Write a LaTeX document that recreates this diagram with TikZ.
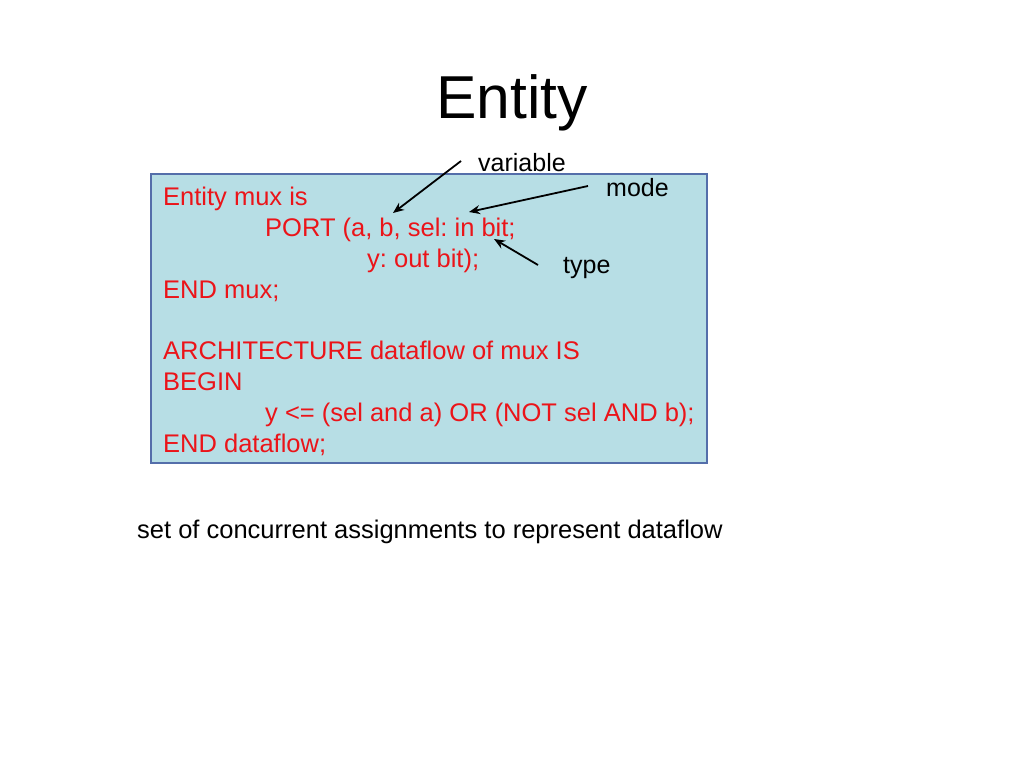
\documentclass[tikz,border=0pt]{standalone}
\usepackage{fontspec}
\setmainfont{Liberation Sans}
\usetikzlibrary{arrows.meta}
\definecolor{boxfill}{RGB}{183,222,229}
\definecolor{boxline}{RGB}{84,110,170}
\definecolor{codered}{RGB}{235,20,25}
\frenchspacing
\begin{document}
\begin{tikzpicture}[x=1pt,y=-1pt,
  code/.style={anchor=base west,inner sep=0pt,text=codered,font=\fontsize{25.5}{30}\selectfont},
  lbl/.style={anchor=base west,inner sep=0pt,font=\fontsize{25}{30}\selectfont},
  pointer/.style={draw=black,line width=1.8pt,-{Stealth[length=11pt,width=9pt]}}]
\useasboundingbox (0,0) rectangle (1024,768);
\fill[white] (0,0) rectangle (1024,768);
\node[anchor=base,inner sep=0pt,font=\fontsize{60.6}{70}\selectfont] (title) at (512,118) {Entity};
\draw[boxline,fill=boxfill,line width=1.4pt] (151,174) rectangle (707,463);
\node[code] (l1) at (163,205) {Entity mux is};
\node[code] (l2) at (265,236) {PORT (a, b, sel: in bit;};
\node[code] (l3) at (367,267) {y: out bit);};
\node[code] (l4) at (163,298) {END mux;};
\node[code] (l5) at (163,359) {ARCHITECTURE dataflow of mux IS};
\node[code] (l6) at (163,390) {BEGIN};
\node[code] (l7) at (265,421) {y <= (sel and a) OR (NOT sel AND b);};
\node[code] (l8) at (163,452) {END dataflow;};
\node[lbl] (var) at (478,171) {variable};
\node[lbl] (mode) at (606,196) {mode};
\node[lbl] (type) at (563,273) {type};
\coordinate (vs) at (461,161);
\coordinate (ve) at (393,213);
\coordinate (ms) at (588,186);
\coordinate (me) at (469,212);
\coordinate (ts) at (538,265);
\coordinate (te) at (494,239);
\draw[pointer] (vs) -- (ve);
\draw[pointer] (ms) -- (me);
\draw[pointer] (ts) -- (te);
\node[anchor=base west,inner sep=0pt,font=\fontsize{25.5}{30}\selectfont] (note) at (137,538) {set of concurrent assignments to represent dataflow};
\end{tikzpicture}
\end{document}
